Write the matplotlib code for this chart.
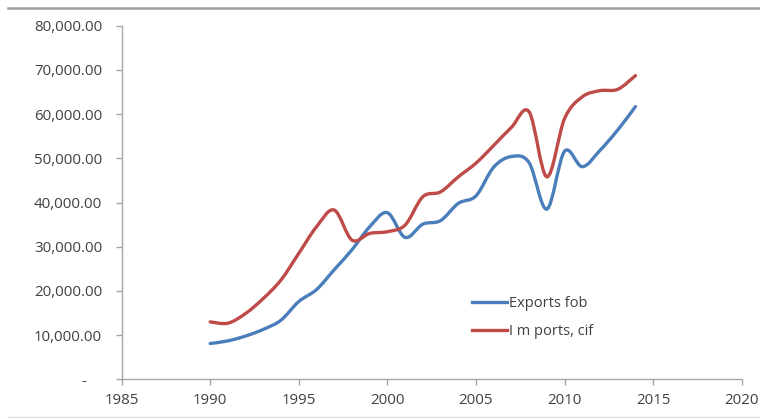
import numpy as np
import matplotlib.pyplot as plt
from matplotlib.path import Path
from matplotlib.patches import PathPatch
from matplotlib.lines import Line2D
from matplotlib.ticker import FuncFormatter

# datos
anios = [1990, 1991, 1992, 1993, 1994, 1995, 1996, 1997, 1998, 1999, 2000, 2001,
         2002, 2003, 2004, 2005, 2006, 2007, 2008, 2009, 2010, 2011, 2012, 2013, 2014]
exports_fob = [8100, 8700, 9800, 11300, 13400, 17600, 20300, 24800, 29300, 34500, 37700, 32100,
               35100, 35900, 39800, 41500, 48000, 50400, 49000, 38500, 51600, 48100, 51800, 56400, 61700]
imports_cif = [13000, 12700, 14900, 18300, 22500, 28500, 34500, 38300, 31500, 33000, 33400, 34900,
               41300, 42400, 45800, 48900, 52900, 57000, 60500, 45800, 59000, 63900, 65300, 65600, 68700]

azul = '#4A7EBB'
rojo = '#BE4B48'
gris_texto = '#404040'


# curva suavizada tipo Excel (bezier catmull-rom) dibujada con Path
def curva_suave(x, y):
    x = np.asarray(x, float)
    y = np.asarray(y, float)
    n = len(x)
    verts = [(x[0], y[0])]
    codes = [Path.MOVETO]
    for i in range(n - 1):
        x0, y0 = (x[i - 1], y[i - 1]) if i > 0 else (x[i], y[i])
        x3, y3 = (x[i + 2], y[i + 2]) if i + 2 < n else (x[i + 1], y[i + 1])
        c1 = (x[i] + (x[i + 1] - x0) / 6, y[i] + (y[i + 1] - y0) / 6)
        c2 = (x[i + 1] - (x3 - x[i]) / 6, y[i + 1] - (y3 - y[i]) / 6)
        verts += [c1, c2, (x[i + 1], y[i + 1])]
        codes += [Path.CURVE4] * 3
    return Path(verts, codes)


plt.rcParams['font.family'] = ['Open Sans', 'DejaVu Sans']

fig = plt.figure(figsize=(7.6, 4.19), dpi=100)
ax = fig.add_axes([0.160, 0.0947, 0.816, 0.844])

for serie, color in [(exports_fob, azul), (imports_cif, rojo)]:
    ax.add_patch(PathPatch(curva_suave(anios, serie), facecolor='none',
                           edgecolor=color, lw=2.4, capstyle='round', joinstyle='round'))

ax.set_xlim(1985, 2020)
ax.set_ylim(0, 80000)
ax.set_xticks(range(1985, 2021, 5))
ax.set_yticks(range(0, 80001, 10000))
# formato contable: el cero se muestra como guion
ax.yaxis.set_major_formatter(FuncFormatter(lambda v, p: '-    ' if v == 0 else f'{v:,.2f}'))

for s in ['top', 'right']:
    ax.spines[s].set_visible(False)
for s in ['left', 'bottom']:
    ax.spines[s].set_color('#a6a6a6')
    ax.spines[s].set_linewidth(1.0)
ax.tick_params(colors='#a6a6a6', labelcolor=gris_texto, labelsize=10.8, length=4, width=1)
ax.tick_params(axis='y', pad=10)
ax.tick_params(axis='x', pad=6)

manejadores = [Line2D([], [], color=azul, lw=2.4), Line2D([], [], color=rojo, lw=2.4)]
fig.legend(manejadores, ['Exports fob', 'I m ports, cif'], loc='upper left',
           bbox_to_anchor=(0.6207, 0.293), frameon=False, fontsize=10.5,
           handlelength=2.4, handletextpad=0.15, labelspacing=0.9,
           borderpad=0, borderaxespad=0, labelcolor=gris_texto)

# lineas grises de borde
fig.add_artist(Line2D([0.011, 1.0], [1 - 8 / 419, 1 - 8 / 419], color='#a0a0a0', lw=1.8))
fig.add_artist(Line2D([0.011, 1.0], [1 - 417 / 419, 1 - 417 / 419], color='#e0e0e0', lw=1.0))

plt.savefig('out.png', dpi=100)
